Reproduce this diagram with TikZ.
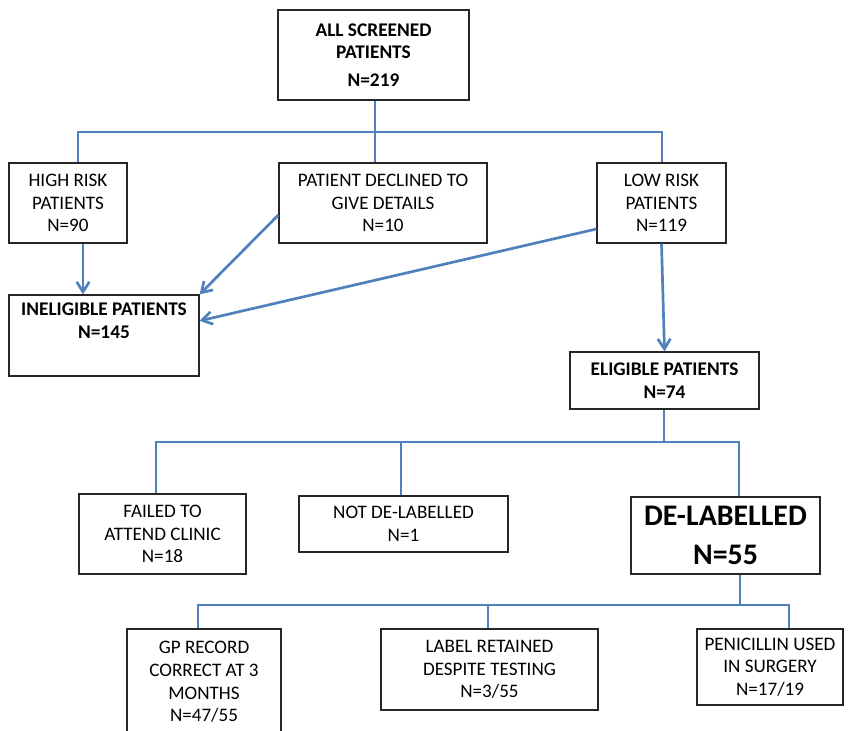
\documentclass[tikz,border=0pt]{standalone}
\usepackage{fontspec}
\setmainfont{Carlito}
\usepackage{tikz}
\usetikzlibrary{arrows.meta}
\definecolor{flowblue}{RGB}{79,129,189}

\begin{document}
\begin{tikzpicture}[x=0.03cm, y=-0.03cm]
    % Styles
    \tikzstyle{box} = [rectangle, draw=black!85, line width=1.1pt, align=center, inner sep=0pt, font=\fontsize{16.3}{19.3}\selectfont]
    \tikzstyle{boldbox} = [box, font=\fontsize{16.5}{19.5}\selectfont\bfseries]
    \tikzstyle{bigbox} = [box, font=\fontsize{25.5}{33}\selectfont\bfseries]
    \tikzstyle{link} = [draw=flowblue, line width=2.3pt]
    \tikzstyle{arrow} = [link, -{Straight Barb[length=0.3cm, width=0.38cm]}]

    \useasboundingbox (0,0) rectangle (851,730);

    % Nodes - top part
    \node[boldbox, minimum width=5.73cm, minimum height=2.7cm] (screened) at (373.5,55) {ALL SCREENED\\PATIENTS\\[4pt]N=219};
    \node[box, minimum width=3.54cm, minimum height=2.4cm] (highrisk) at (68,203) {HIGH RISK\\PATIENTS\\N=90};
    \node[box, minimum width=6.24cm, minimum height=2.4cm] (declined) at (383,203) {PATIENT DECLINED TO\\GIVE DETAILS\\N=10};
    \node[box, minimum width=3.87cm, minimum height=2.4cm] (lowrisk) at (661.5,203) {LOW RISK\\PATIENTS\\N=119};
    \node[boldbox, minimum width=5.7cm, minimum height=2.43cm] (ineligible) at (104,335.5) {INELIGIBLE PATIENTS\\N=145\\\strut};
    \node[boldbox, minimum width=5.67cm, minimum height=1.71cm] (eligible) at (664.5,380.5) {ELIGIBLE PATIENTS\\N=74};

    % Nodes - middle row
    \node[box, minimum width=5.01cm, minimum height=2.4cm] (failed) at (162.5,534) {FAILED TO\\ATTEND CLINIC\\N=18};
    \node[box, minimum width=6.27cm, minimum height=1.68cm] (notdelab) at (403.5,524) {NOT DE-LABELLED\\N=1};
    \node[bigbox, minimum width=5.67cm, minimum height=2.31cm] (delab) at (725.5,535.5) {DE-LABELLED\\N=55};

    % Nodes - bottom row
    \node[box, minimum width=4.62cm, minimum height=3.18cm] (gp) at (204,682) {GP RECORD\\CORRECT AT 3\\MONTHS\\N=47/55};
    \node[box, minimum width=6.51cm, minimum height=2.43cm] (retained) at (489.5,669.5) {LABEL RETAINED\\DESPITE TESTING\\N=3/55};
    \node[box, minimum width=4.38cm, minimum height=2.28cm] (penicillin) at (770,667) {PENICILLIN USED\\IN SURGERY\\N=17/19};

    % Split points
    \coordinate (top) at (375,132);
    \coordinate (topL) at (78,132);
    \coordinate (topR) at (662,132);
    \coordinate (mid) at (664,442);
    \coordinate (midL) at (156,442);
    \coordinate (midM) at (401,442);
    \coordinate (midR) at (739,442);
    \coordinate (low) at (740,605);
    \coordinate (lowL) at (198,605);
    \coordinate (lowM) at (488,605);
    \coordinate (lowR) at (789,605);
    \coordinate (hr) at (83,0);

    % Lines
    \draw[link] (screened.south -| top) -- (top);
    \draw[link] (topL |- highrisk.north) -- (topL) -- (topR) -- (topR |- lowrisk.north);
    \draw[link] (top) -- (top |- declined.north);
    \draw[link] (eligible.south -| mid) -- (mid);
    \draw[link] (midL |- failed.north) -- (midL) -- (midR) -- (midR |- delab.north);
    \draw[link] (midM) -- (midM |- notdelab.north);
    \draw[link] (delab.south -| low) -- (low);
    \draw[link] (lowL |- gp.north) -- (lowL) -- (lowR) -- (lowR |- penicillin.north);
    \draw[link] (lowM) -- (lowM |- retained.north);

    % Arrows
    \draw[arrow] (highrisk.south -| hr) -- (ineligible.north -| hr);
    \draw[arrow] ([yshift=-0.36cm]declined.west) -- (ineligible.north east);
    \draw[arrow] ([yshift=-0.78cm]lowrisk.west) -- ([yshift=0.44cm]ineligible.east);
    \draw[arrow] (lowrisk.south) -- (eligible.north);
\end{tikzpicture}
\end{document}
